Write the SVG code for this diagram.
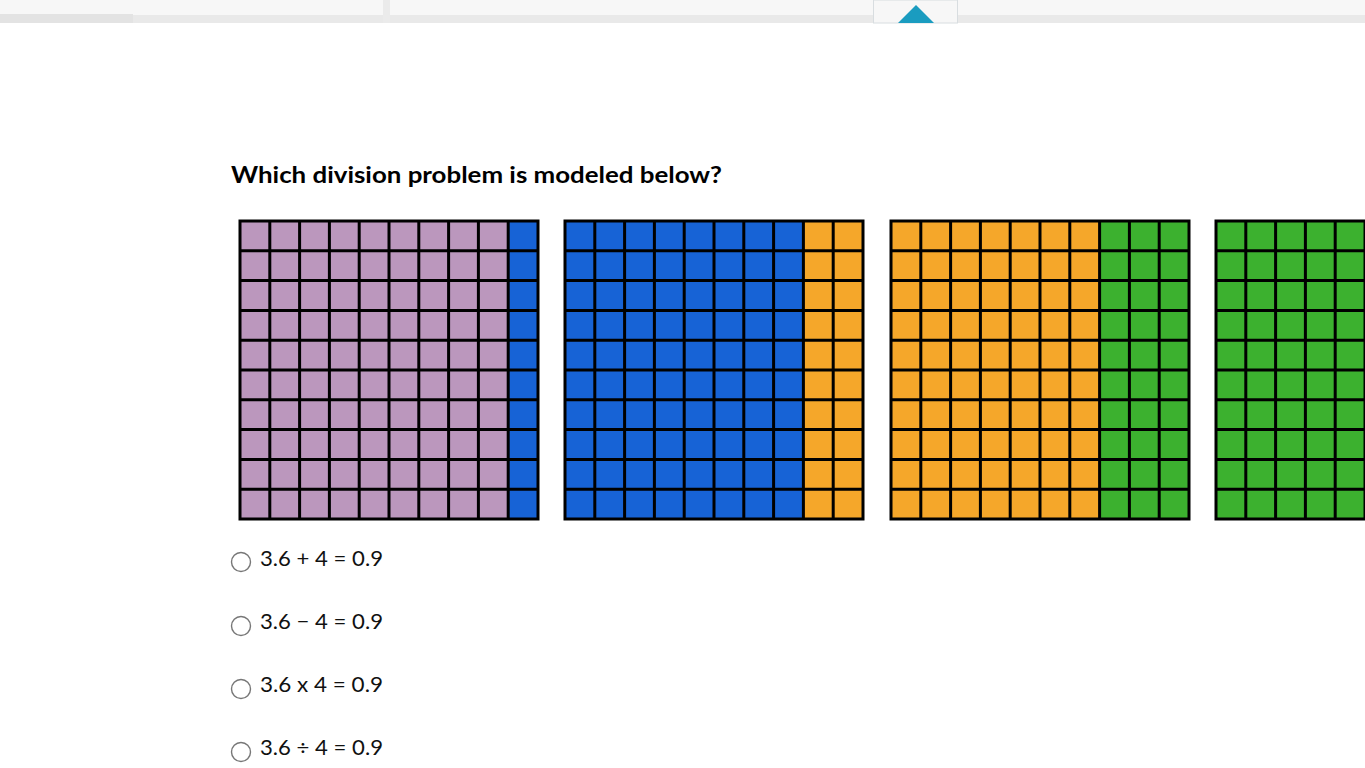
<svg xmlns="http://www.w3.org/2000/svg" width="1365" height="768" viewBox="0 0 1365 768">
<style>
.lines{fill:none;stroke:#000;stroke-width:3}
.pu{fill:#bb97bd}.bl{fill:#1763d6}.or{fill:#f5a72a}.gr{fill:#3cb12f}
.t{font-family:Lato,"Open Sans",sans-serif;fill:#000}
.opt{font-family:Lato,"Open Sans",sans-serif;font-size:21px;fill:#111}
.radio{fill:#fff;stroke:#777;stroke-width:1.4}
</style>
<defs>
<path id="gl" class="lines" d="M0 0H298V298H0Z M29.8 0V298 M59.6 0V298 M89.4 0V298 M119.2 0V298 M149 0V298 M178.8 0V298 M208.6 0V298 M238.4 0V298 M268.2 0V298 M0 29.8H298 M0 59.6H298 M0 89.4H298 M0 119.2H298 M0 149H298 M0 178.8H298 M0 208.6H298 M0 238.4H298 M0 268.2H298"/>
</defs>
<rect width="1365" height="768" fill="#fff"/>
<g id="topbar">
<rect x="0" y="0" width="1365" height="15" fill="#f7f7f7"/>
<rect x="0" y="15" width="1365" height="8" fill="#e9e9e9"/>
<rect x="0" y="14" width="133" height="9" fill="#e3e3e3"/>
<rect x="383" y="0" width="7" height="23" fill="#ebebeb"/>
<rect x="873.5" y="0" width="84" height="23" fill="#f7f7f7" stroke="#d8dde0" stroke-width="1"/>
<polygon points="898,23 934,23 916,5" fill="#1a9cc0"/>
</g>
<text class="t" x="231" y="183" font-size="23" font-weight="bold" textLength="491" lengthAdjust="spacingAndGlyphs">Which division problem is modeled below?</text>
<g id="grid1" transform="translate(240,221)">
<rect class="pu" width="268.2" height="298"/>
<rect class="bl" x="268.2" width="29.8" height="298"/>
<use href="#gl"/>
</g>
<g id="grid2" transform="translate(565,221)">
<rect class="bl" width="238.4" height="298"/>
<rect class="or" x="238.4" width="59.6" height="298"/>
<use href="#gl"/>
</g>
<g id="grid3" transform="translate(891,221)">
<rect class="or" width="208.6" height="298"/>
<rect class="gr" x="208.6" width="89.4" height="298"/>
<use href="#gl"/>
</g>
<g id="grid4" transform="translate(1216,221)">
<rect class="gr" width="178.8" height="298"/>
<use href="#gl"/>
</g>
<g id="options">
<circle class="radio" cx="241" cy="562" r="9.5"/>
<text class="opt" x="260" y="566" textLength="123" lengthAdjust="spacingAndGlyphs">3.6 + 4 = 0.9</text>
<circle class="radio" cx="241" cy="626" r="9.5"/>
<text class="opt" x="260" y="629" textLength="123" lengthAdjust="spacingAndGlyphs">3.6 − 4 = 0.9</text>
<circle class="radio" cx="241" cy="689" r="9.5"/>
<text class="opt" x="260" y="692" textLength="123" lengthAdjust="spacingAndGlyphs">3.6 x 4 = 0.9</text>
<circle class="radio" cx="241" cy="752" r="9.5"/>
<text class="opt" x="260" y="755" textLength="123" lengthAdjust="spacingAndGlyphs">3.6 ÷ 4 = 0.9</text>
</g>
</svg>
